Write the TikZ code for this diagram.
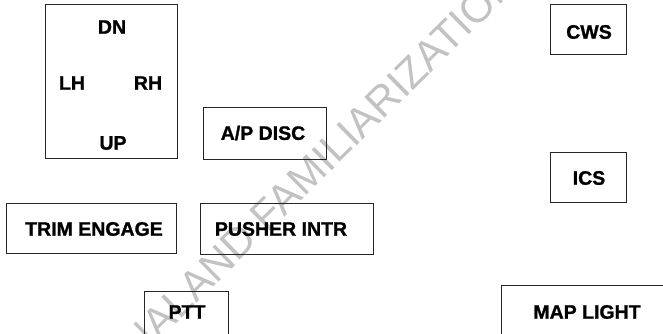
\documentclass[tikz,border=0pt]{standalone}
\usepackage{fontspec}
\setmainfont{Liberation Sans}
\newfontfamily\heavyfont[FakeBold=1.2]{Liberation Sans Bold}
\begin{document}
\begin{tikzpicture}[x=1pt,y=-1pt,
  box/.style={draw=black!85,line width=0.9pt,rectangle,inner sep=0pt},
  lbl/.style={inner sep=0pt,font=\fontsize{19.5}{20}\heavyfont},
  wm/.style={inner sep=0pt,text=black!24,font=\fontsize{42}{44}\selectfont,rotate=44.5}]
\useasboundingbox (0,0) rectangle (663,334);
\clip (0,0) rectangle (663,334);
% watermark
\coordinate (wp) at (196,304);
\node[wm,anchor=base west] (wm1) at (wp) {AND FAMILIARIZATION PURPOSES ONLY};
\node[wm,anchor=base east] (wm2) at (wp) {FOR EDUCATIONAL\ };
% boxes
\node[box,minimum width=132pt,minimum height=153.5pt] (trimsw) at (111,81.25) {};
\node[lbl] (dn) at (112,27) {DN};
\node[lbl] (lh) at (72,83) {LH};
\node[lbl] (rh) at (148,83) {RH};
\node[lbl] (up) at (113,143) {UP};
\node[box,minimum width=123pt,minimum height=52pt] (apbox) at (264.5,133) {};
\node[lbl] (ap) at (263,133) {A/P DISC};
\node[box,minimum width=76pt,minimum height=49.5pt] (cwsbox) at (588,29.25) {};
\node[lbl] (cws) at (589,32) {CWS};
\node[box,minimum width=76pt,minimum height=50pt] (icsbox) at (588,177) {};
\node[lbl] (ics) at (589,178) {ICS};
\node[box,minimum width=170pt,minimum height=50pt] (trimbox) at (91,228) {};
\node[lbl] (trim) at (94,229) {TRIM ENGAGE};
\node[box,minimum width=173pt,minimum height=51pt] (pushbox) at (286.5,228.5) {};
\node[lbl] (push) at (281,229) {PUSHER INTR};
\node[box,minimum width=84pt,minimum height=60pt] (pttbox) at (186,321) {};
\node[lbl] (ptt) at (187,312) {PTT};
\node[box,minimum width=170pt,minimum height=70pt] (mapbox) at (586,320) {};
\node[lbl] (map) at (587,312) {MAP LIGHT};
\end{tikzpicture}
\end{document}
